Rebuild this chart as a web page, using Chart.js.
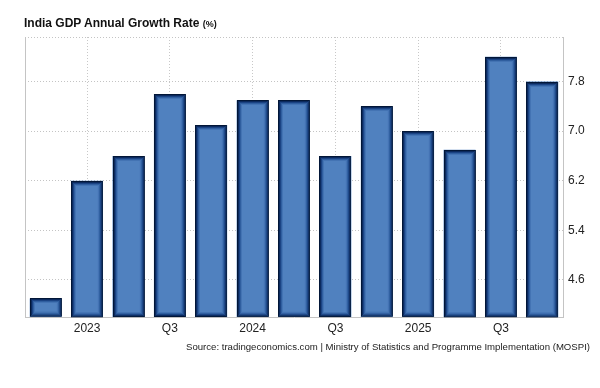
<!DOCTYPE html>
<html>
<head>
<meta charset="utf-8">
<script src="https://cdn.jsdelivr.net/npm/chart.js@4"></script>
<style>
    body { margin: 0; background: #fff; }
    #wrap { position: relative; width: 600px; height: 388px; font-family: "Liberation Sans", Arial, sans-serif; }
    #chart { position: absolute; left: 0; top: 0; }
    .title { position: absolute; left: 24px; top: 16px; font-size: 12px; font-weight: bold; color: #111; white-space: nowrap; }
    .title small { font-size: 9px; }
    .source { position: absolute; right: 10px; top: 341px; font-size: 9.6px; color: #222; white-space: nowrap; }
</style>
</head>
<body>
<div id="wrap">
    <canvas id="chart" width="600" height="388"></canvas>
    <div class="title">India GDP Annual Growth Rate <small>(%)</small></div>
    <div class="source">Source: tradingeconomics.com | Ministry of Statistics and Programme Implementation (MOSPI)</div>
</div>
<script>
// Data
const quarters = ['Q4 2022', 'Q1 2023', 'Q2 2023', 'Q3 2023', 'Q4 2023', 'Q1 2024', 'Q2 2024',
    'Q3 2024', 'Q4 2024', 'Q1 2025', 'Q2 2025', 'Q3 2025', 'Q4 2025'];
const growth = [4.3, 6.2, 6.6, 7.6, 7.1, 7.5, 7.5, 6.6, 7.4, 7.0, 6.7, 8.2, 7.8];
const xTickLabels = ['', '2023', '', 'Q3', '', '2024', '', 'Q3', '', '2025', '', 'Q3', ''];
const yTicks = [4.6, 5.4, 6.2, 7.0, 7.8];
const yMin = 4.0;
const yMax = 8.52;

// left frame line of the plot area
const framePlugin = {
    id: 'frame',
    beforeDatasetsDraw(chart) {
        const { ctx, chartArea } = chart;
        ctx.save();
        ctx.strokeStyle = '#c4c4c4';
        ctx.lineWidth = 1;
        ctx.beginPath();
        ctx.moveTo(chartArea.left + 0.5, chartArea.top);
        ctx.lineTo(chartArea.left + 0.5, chartArea.bottom);
        ctx.stroke();
        ctx.restore();
    }
};

// dark glowing edge on each bar
const barEdgePlugin = {
    id: 'barEdge',
    afterDatasetsDraw(chart) {
        const { ctx, chartArea } = chart;
        const edges = ['#021637', '#0b2a5e', '#1b4383', '#2f5e9f', '#4373b3'];
        chart.getDatasetMeta(0).data.forEach(bar => {
            const p = bar.getProps(['x', 'y', 'base', 'width'], true);
            const left = p.x - p.width / 2;
            const top = Math.max(chartArea.top, Math.min(p.y, p.base));
            const bottom = Math.min(chartArea.bottom, Math.max(p.y, p.base));
            const h = bottom - top;
            ctx.save();
            ctx.lineWidth = 1;
            edges.forEach((c, i) => {
                const w = p.width - 1 - i * 2;
                const hh = h - 1 - i * 2;
                if (w <= 0 || hh <= 0) return;
                ctx.strokeStyle = c;
                ctx.strokeRect(Math.round(left) + 0.5 + i, Math.round(top) + 0.5 + i, w, hh);
            });
            ctx.restore();
        });
    }
};

new Chart(document.getElementById('chart'), {
    type: 'bar',
    data: {
        labels: quarters,
        datasets: [{
            data: growth,
            base: yMin,
            backgroundColor: '#5081bf',
            borderWidth: 0,
            barPercentage: 0.77,
            categoryPercentage: 1
        }]
    },
    options: {
        responsive: false,
        animation: false,
        layout: { padding: { left: 25, top: 37, right: 0, bottom: 0 } },
        plugins: {
            legend: { display: false },
            tooltip: { enabled: false }
        },
        scales: {
            x: {
                offset: true,
                grid: {
                    offset: false,
                    drawTicks: false,
                    color: ctx => xTickLabels[ctx.index] ? '#c8c8c8' : 'rgba(0,0,0,0)',
                    lineWidth: 1
                },
                border: { display: true, color: '#c4c4c4', dash: [1, 2] },
                ticks: {
                    autoSkip: false,
                    maxRotation: 0,
                    padding: 4,
                    color: '#222',
                    font: { family: 'Liberation Sans', size: 12 },
                    callback: (v, i) => xTickLabels[i]
                },
                afterFit: scale => { scale.height = 71; }
            },
            y: {
                position: 'right',
                min: yMin,
                max: yMax,
                grid: { drawTicks: false, color: '#c4c4c4' },
                border: { display: true, color: '#c4c4c4', dash: [1, 2] },
                ticks: {
                    padding: 5,
                    color: '#222',
                    font: { family: 'Liberation Sans', size: 12 },
                    callback: v => yTicks.includes(v) ? v.toFixed(1) : ''
                },
                afterBuildTicks: scale => {
                    scale.ticks = yTicks.concat([yMax]).map(v => ({ value: v }));
                },
                afterFit: scale => { scale.width = 37; }
            }
        }
    },
    plugins: [framePlugin, barEdgePlugin]
});
</script>
</body>
</html>
